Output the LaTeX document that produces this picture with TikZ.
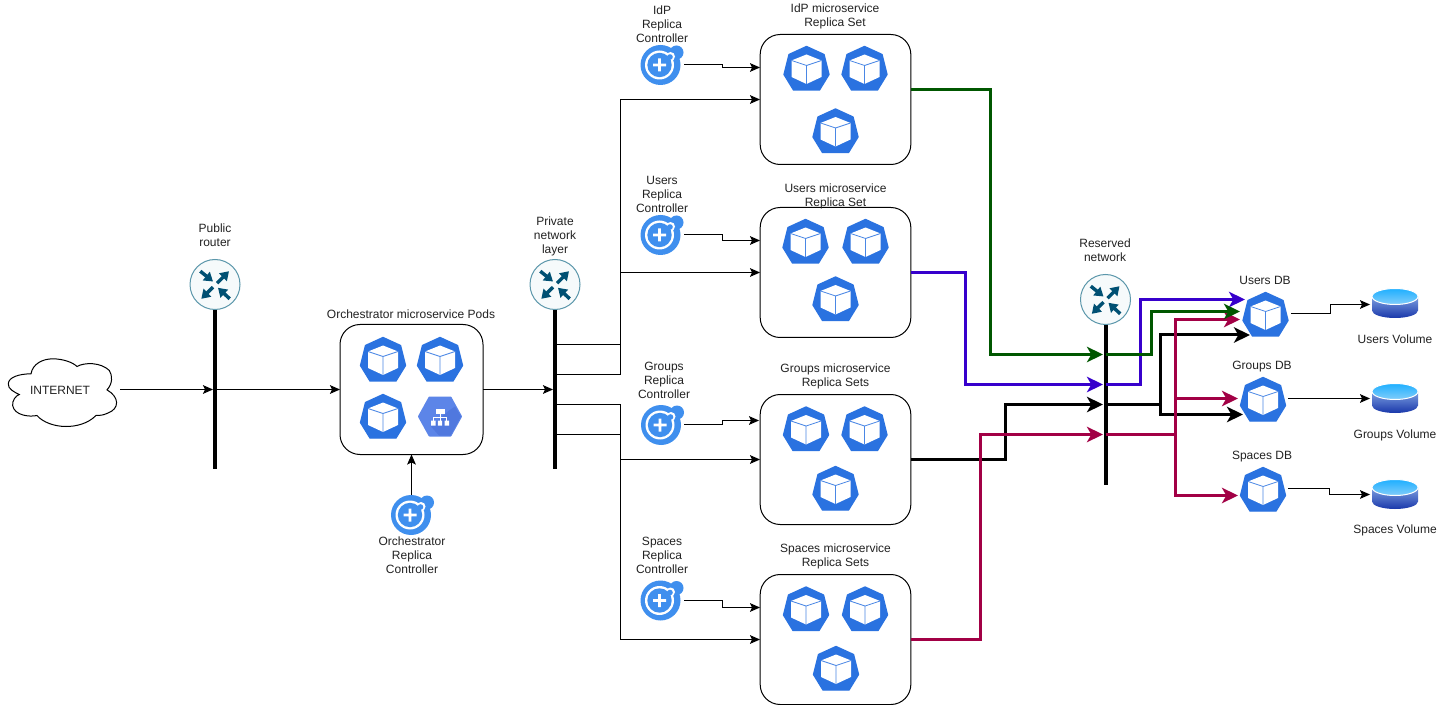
\documentclass[tikz,border=0pt]{standalone}
\usepackage{fontspec}
\setmainfont{Liberation Sans}
\usetikzlibrary{arrows.meta,calc}
\definecolor{kube}{HTML}{2A72E0}
\definecolor{ctrlblue}{HTML}{3F8FEE}
\definecolor{routerdark}{HTML}{005073}
\definecolor{routerline}{HTML}{5B97AB}
\definecolor{routerfill}{HTML}{F6FAFB}
\definecolor{lbblue}{HTML}{5C85E8}
\definecolor{lbdark}{HTML}{5078DE}
\definecolor{gline}{HTML}{005700}
\definecolor{pline}{HTML}{3700CC}
\definecolor{cline}{HTML}{A20045}
\definecolor{txt}{HTML}{222222}
\tikzset{
  x=0.75pt,y=-0.75pt,
  lab/.style={font=\fontsize{9}{10.5}\selectfont,text=txt,align=center,inner sep=0pt},
  setbox/.style={draw=black,line width=0.75pt,rounded corners=15pt,fill=white,minimum width=113pt,minimum height=97.5pt,inner sep=0pt,outer sep=0pt},
  anchorbox/.style={minimum width=#1,minimum height=#1,inner sep=0pt,outer sep=0pt},
  thin link/.style={draw=black,line width=0.75pt,-{Stealth[length=7.5pt,width=6.5pt,inset=1.5pt]}},
  bus/.style={draw=black,line width=3pt},
  fat link/.style={line width=2.25pt,line join=miter,-{Stealth[length=12pt,width=11.5pt,inset=3.2pt]}},
  pod/.pic={
    \fill[kube,line join=round,draw=kube,line width=1pt] (0,-22) -- (17.5,-14) -- (22.5,6) -- (13,21.5) -- (-13,21.5) -- (-22.5,6) -- (-17.5,-14) -- cycle;
    \fill[white] (0,-14) -- (15,-8) -- (15,8.5) -- (0,15.5) -- (-15,8.5) -- (-15,-8) -- cycle;
    \draw[kube!85!white,line width=0.6pt] (-15,-8) -- (0,-3) -- (15,-8) (0,-3) -- (0,15.5);
  },
  router/.pic={
    \draw[routerline,fill=routerfill,line width=0.75pt] (0,0) circle[radius=25];
    \foreach \ax/\ay/\bx/\by in {-14.7/-13.3/-2/-3, 2/-1.3/14/-13.3, -2/2.7/-13.7/14.3, 14.7/14.3/3/3.3}
      \draw[routerdark,line width=2.6pt,-{Triangle[length=6.5pt,width=8pt]}] (\ax,\ay) -- (\bx,\by);
  },
  ctrl/.pic={
    \fill[ctrlblue] (0,0) circle[radius=20] (16,-12.5) circle[radius=7];
    \fill[white] (-1,0) circle[radius=14.5] (10,-8.5) circle[radius=4.5];
    \fill[ctrlblue] (-1,0) circle[radius=12.2] (9.5,-8) circle[radius=2.8];
    \fill[white] (-7.5,-1.4) rectangle (5.5,1.4) (-2.4,-6.5) rectangle (0.4,6.5);
  },
  lb/.pic={
    \fill[lbblue,draw=lbblue,line join=round,line width=1.5pt] (-21,0) -- (-10.5,-19) -- (10.5,-19) -- (21,0) -- (10.5,19) -- (-10.5,19) -- cycle;
    \fill[lbdark] (21,0) -- (10.5,19) -- (-1,19) -- (-9,10) -- (9,-6) -- (15,-10) -- cycle;
    \fill[white] (-4.5,-7.5) rectangle (4.5,-3);
    \fill[white] (-9,4) rectangle (-4.5,9) (-2.2,4) rectangle (2.2,9) (4.5,4) rectangle (9,9);
    \draw[white,line width=0.75pt] (0,-3) -- (0,4) (-6.7,4) -- (-6.7,0.5) -- (6.7,0.5) -- (6.7,4);
  },
  dbvol/.pic={
    \shade[top color={rgb,255:red,125;green,160;blue,225},bottom color={rgb,255:red,25;green,55;blue,170}]
      (-23,-7) -- (-23,7) arc[start angle=180,end angle=0,x radius=23,y radius=7.5] -- (23,-7) -- cycle;
    \shade[top color={rgb,255:red,30;green,175;blue,255},bottom color={rgb,255:red,130;green,205;blue,250},draw=white,line width=0.75pt]
      (0,-7) ellipse[x radius=23,y radius=8];
  },
}
\begin{document}
\begin{tikzpicture}
\useasboundingbox (0,-0.5) rectangle (1437,704.5);
\fill[white] (0,-0.5) rectangle (1437,704.5);

% ---- bus bars and routers
\node[anchorbox=37.5pt] (rtPub) at (215,284) {};
\node[anchorbox=37.5pt] (rtPriv) at (555,284) {};
\node[anchorbox=37.5pt] (rtRes) at (1105.5,299) {};
\coordinate (busPubEnd) at (215,468);
\coordinate (busPrivEnd) at (555,468);
\coordinate (busResEnd) at (1105.5,484);
\draw[bus] (rtPub.south) -- (busPubEnd);
\draw[bus] (rtPriv.south) -- (busPrivEnd);
\draw[bus] (rtRes.south) -- (busResEnd);

% ---- containers
\node[setbox,minimum width=107.25pt] (orch) at (411.5,389) {};
\node[setbox] (idp) at (835.5,99) {};
\node[setbox] (users) at (835.5,272) {};
\node[setbox] (groups) at (835.5,459) {};
\node[setbox] (spaces) at (835.5,639) {};

% ---- cloud
\begin{scope}[shift={(1,350)},x=0.25pt,y=-0.25pt]
\draw[black,line width=0.75pt,fill=white] (22,100) .. controls (22,80) and (55,70) .. (90,70)
  .. controls (95,40) and (125,25) .. (155,25)
  .. controls (185,25) and (215,35) .. (228,48)
  .. controls (250,35) and (300,35) .. (325,60)
  .. controls (335,75) and (335,100) .. (318,118)
  .. controls (356,140) and (356,175) .. (320,188)
  .. controls (305,195) and (295,195) .. (285,195)
  .. controls (260,220) and (225,228) .. (195,228)
  .. controls (160,228) and (125,215) .. (108,195)
  .. controls (85,200) and (40,195) .. (35,165)
  .. controls (33,150) and (45,135) .. (55,132)
  .. controls (40,125) and (20,115) .. (22,100) -- cycle;
\end{scope}
\node[lab] (net) at (60,390) {INTERNET};

% ---- left chain
\coordinate (netOut) at (120,389);
\coordinate (pubIn) at (213,389);
\coordinate (pubOut) at (215,389);
\coordinate (orchIn) at (340,389);
\coordinate (orchOut) at (483,389);
\coordinate (privIn) at (553,389);
\draw[thin link] (netOut) -- (pubIn);
\draw[thin link] (pubOut) -- (orchIn);
\draw[thin link] (orchOut) -- (privIn);

% ---- private network to replica sets
\coordinate (pa) at (555,344); \coordinate (pb) at (555,374);
\coordinate (pc) at (555,404); \coordinate (pd) at (555,434);
\coordinate (idpIn) at (760,99); \coordinate (usersIn) at (760,272);
\coordinate (groupsIn) at (760,459); \coordinate (spacesIn) at (760,639);
\draw[thin link] (pa) -- (620.5,344) -- (620.5,99) -- (idpIn);
\draw[thin link] (pb) -- (620.5,374) -- (620.5,272) -- (usersIn);
\draw[thin link] (pc) -- (620.5,404) -- (620.5,459) -- (groupsIn);
\draw[thin link] (pd) -- (620.5,434) -- (620.5,639) -- (spacesIn);

% ---- controllers
\node[anchorbox=30pt] (cOrch) at (411,514.5) {};
\node[anchorbox=30pt] (cIdp) at (660.5,64.5) {};
\node[anchorbox=30pt] (cUsers) at (660.5,234.5) {};
\node[anchorbox=30pt] (cGroups) at (661,424.5) {};
\node[anchorbox=30pt] (cSpaces) at (660.5,600) {};
\coordinate (cOrchTop) at (411.5,495);
\coordinate (orchBot) at (411.5,454);
\draw[thin link] (cOrchTop) -- (orchBot);
\coordinate (a1) at (684,64); \coordinate (a2) at (760,67);
\coordinate (b1) at (684,234); \coordinate (b2) at (760,240);
\coordinate (c1) at (684,424); \coordinate (c2) at (759,420);
\coordinate (d1) at (684,600); \coordinate (d2) at (760,607);
\draw[thin link] (a1) -- (722,64) -- (722,67) -- (a2);
\draw[thin link] (b1) -- (722,234) -- (722,240) -- (b2);
\draw[thin link] (c1) -- (722,424) -- (722,420) -- (c2);
\draw[thin link] (d1) -- (722,600) -- (722,607) -- (d2);

% ---- coloured links to reserved network
\coordinate (rg) at (1103,354); \coordinate (rp) at (1103,384);
\coordinate (rk) at (1103,404); \coordinate (rc) at (1103,434);
\coordinate (idpOut) at (911,89); \coordinate (usersOut) at (911,272);
\coordinate (groupsOut) at (911,459); \coordinate (spacesOut) at (911,639);
\draw[fat link,draw=gline] (idpOut) -- (990,89) -- (990,354) -- (rg);
\draw[fat link,draw=pline] (usersOut) -- (965,272) -- (965,384) -- (rp);
\draw[fat link,draw=black] (groupsOut) -- (1005,459) -- (1005,404) -- (rk);
\draw[fat link,draw=cline] (spacesOut) -- (980,639) -- (980,434) -- (rc);

% ---- reserved network to DBs
\coordinate (sg) at (1105.5,354); \coordinate (sp) at (1105.5,384);
\coordinate (sk) at (1105.5,404); \coordinate (sc) at (1105.5,434);
\coordinate (u1) at (1245,299); \coordinate (u2) at (1240,311);
\coordinate (u3) at (1240,319); \coordinate (u4) at (1250,334.5);
\coordinate (g1) at (1238,398); \coordinate (g2) at (1243,414);
\coordinate (s1) at (1238,495);
\coordinate (cmid) at (1175,398);
\draw[fat link,draw=black] (sk) -- (1160,404) -- (1160,334.5) -- (u4);
\draw[fat link,draw=black] (sk) -- (1160,404) -- (1160,414) -- (g2);
\draw[fat link,draw=cline] (sc) -- (1175,434) -- (1175,319) -- (u3);
\draw[fat link,draw=cline] (cmid) -- (g1);
\draw[fat link,draw=cline] (sc) -- (1175,434) -- (1175,495) -- (s1);
\draw[fat link,draw=pline] (sp) -- (1140,384) -- (1140,299) -- (u1);
\draw[fat link,draw=gline] (sg) -- (1151,354) -- (1151,311) -- (u2);

% ---- DB to volumes
\node[anchorbox=33pt] (dbU) at (1265.5,314) {};
\node[anchorbox=33pt] (dbG) at (1263,399) {};
\node[anchorbox=33pt] (dbS) at (1263,489) {};
\node[anchorbox=22pt] (vU) at (1395,303) {};
\node[anchorbox=22pt] (vG) at (1395,398) {};
\node[anchorbox=22pt] (vS) at (1395,494) {};
\coordinate (dU) at (1291,313); \coordinate (dG) at (1288,398); \coordinate (dS) at (1288,488);
\coordinate (eU) at (1370,304); \coordinate (eG) at (1370,398); \coordinate (eS) at (1370,494);
\draw[thin link] (dU) -- (1330,313) -- (1330,304) -- (eU);
\draw[thin link] (dG) -- (eG);
\draw[thin link] (dS) -- (1329,488) -- (1329,494) -- (eS);

% ---- icons
\pic at (rtPub) {router}; \pic at (rtPriv) {router}; \pic at (rtRes) {router};
\pic at (cOrch) {ctrl}; \pic at (cIdp) {ctrl}; \pic at (cUsers) {ctrl}; \pic at (cGroups) {ctrl}; \pic at (cSpaces) {ctrl};
\pic at (383,359) {pod}; \pic at (440,359) {pod}; \pic at (383,416) {pod}; \pic at (440,416) {lb};
\pic at (806.5,68) {pod}; \pic at (864.5,68) {pod}; \pic at (835.5,130.5) {pod};
\pic at (805.5,241) {pod}; \pic at (865.5,241) {pod}; \pic at (835.5,298.5) {pod};
\pic at (806,428.5) {pod}; \pic at (864.5,428.5) {pod}; \pic at (835.5,488) {pod};
\pic at (806,608.5) {pod}; \pic at (865,608.5) {pod}; \pic at (836,668) {pod};
\pic at (dbU) {pod}; \pic at (dbG) {pod}; \pic at (dbS) {pod};
\pic at (vU) {dbvol}; \pic at (vG) {dbvol}; \pic at (vS) {dbvol};

% ---- labels
\node[lab] (t1) at (215,234.5) {Public\\router};
\node[lab] (t2) at (555,235.5) {Private\\network\\layer};
\node[lab] (t3) at (1105,249.5) {Reserved\\network};
\node[lab] (t4) at (411,313.5) {Orchestrator microservice Pods};
\node[lab] (t5) at (412,554.5) {Orchestrator\\Replica\\Controller};
\node[lab] (t6) at (662,24) {IdP\\Replica\\Controller};
\node[lab] (t7) at (835,15.5) {IdP microservice\\Replica Set};
\node[lab] (t8) at (662,194) {Users\\Replica\\Controller};
\node[lab] (t9) at (835.5,195.5) {Users microservice\\Replica Set};
\node[lab] (t10) at (664,380) {Groups\\Replica\\Controller};
\node[lab] (t11) at (835.5,375.5) {Groups microservice\\Replica Sets};
\node[lab] (t12) at (662,555) {Spaces\\Replica\\Controller};
\node[lab] (t13) at (835.5,555.5) {Spaces microservice\\Replica Sets};
\node[lab] (t14) at (1265,280) {Users DB};
\node[lab] (t15) at (1262,366.5) {Groups DB};
\node[lab] (t16) at (1262,456) {Spaces DB};
\node[lab] (t17) at (1395,339) {Users Volume};
\node[lab] (t18) at (1395,434.5) {Groups Volume};
\node[lab] (t19) at (1395,529.5) {Spaces Volume};
\end{tikzpicture}
\end{document}
